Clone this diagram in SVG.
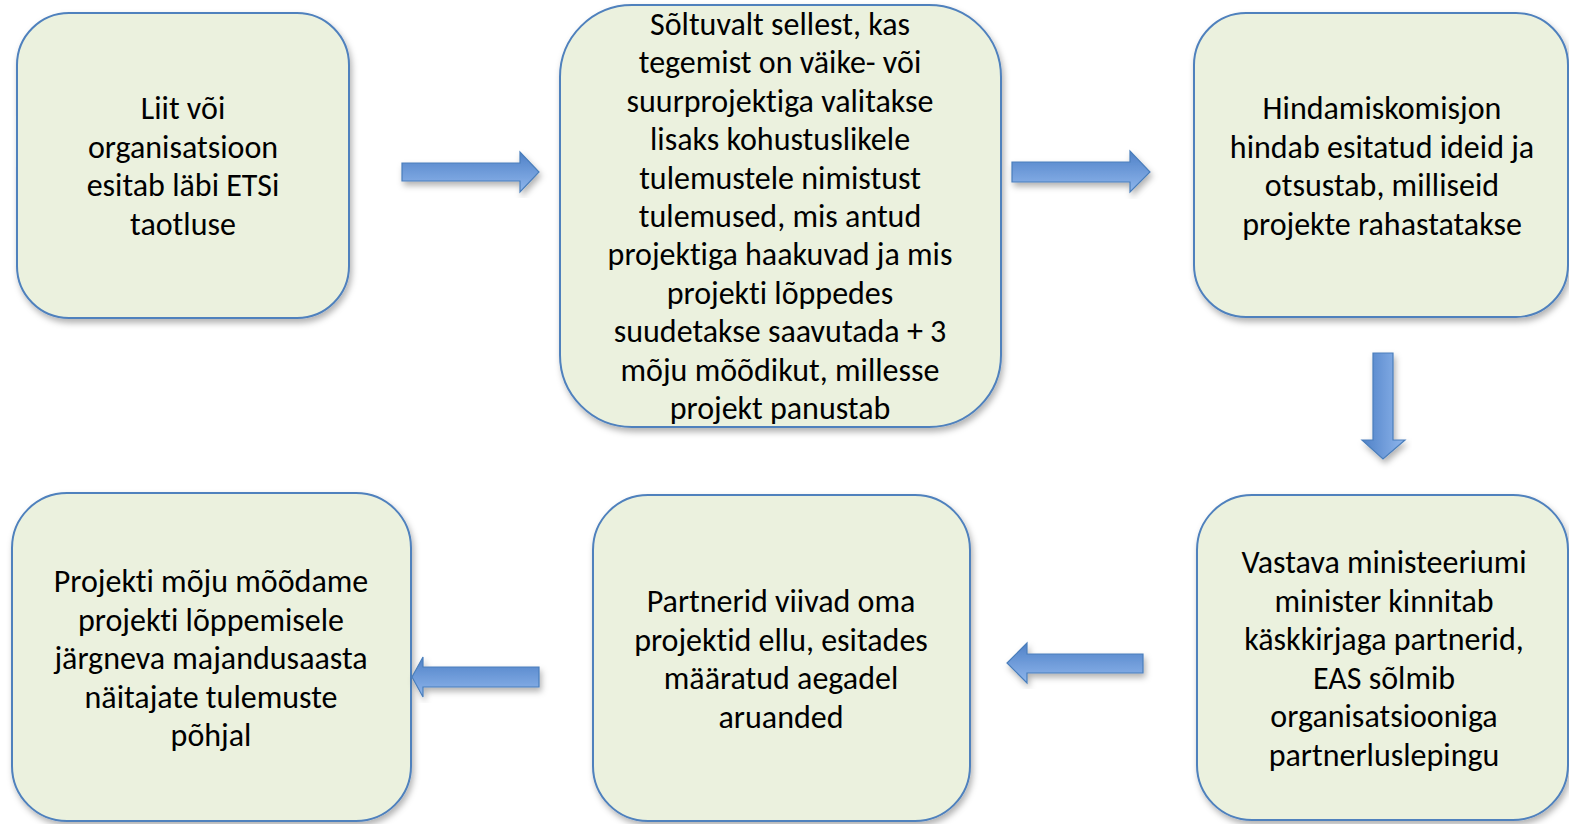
<svg xmlns="http://www.w3.org/2000/svg" width="1569" height="824" viewBox="0 0 1569 824">
<defs>
<filter id="sh" x="-10%" y="-10%" width="125%" height="125%">
<feDropShadow dx="2" dy="4" stdDeviation="3" flood-color="#000" flood-opacity="0.3"/>
</filter>
<linearGradient id="gv" x1="0" y1="0" x2="0" y2="1">
<stop offset="0" stop-color="#4f81c7"/>
<stop offset="1" stop-color="#8fb6ec"/>
</linearGradient>
<linearGradient id="gh" x1="0" y1="0" x2="1" y2="0">
<stop offset="0" stop-color="#4f81c7"/>
<stop offset="1" stop-color="#8fb6ec"/>
</linearGradient>
</defs>
<style>
.box{fill:#EBF1DE;stroke:#4F81BD;stroke-width:2;filter:url(#sh)}
.t{font-family:Carlito,Calibri,Lato,"Open Sans",sans-serif;font-size:32px;fill:#000;text-anchor:middle;font-variant-ligatures:none;font-feature-settings:"liga" 0,"clig" 0,"dlig" 0}
.arr{stroke:#4A7EBB;stroke-width:1.2;filter:url(#sh)}
</style>
<rect width="1569" height="824" fill="#fff"/>
<g id="n1">
<rect class="box" x="17" y="13" width="332" height="305" rx="52"/>
<text class="t"><tspan x="183" y="119">Liit või</tspan><tspan x="183" y="157.5">organisatsioon</tspan><tspan x="183" y="196">esitab läbi ETSi</tspan><tspan x="183" y="234.5">taotluse</tspan></text>
</g>
<g id="n2">
<rect class="box" x="560" y="5" width="441" height="422" rx="72"/>
<text class="t"><tspan x="780" y="35">Sõltuvalt sellest, kas</tspan><tspan x="780" y="73.4">tegemist on väike- või</tspan><tspan x="780" y="111.8">suurprojektiga valitakse</tspan><tspan x="780" y="150.2">lisaks kohustuslikele</tspan><tspan x="780" y="188.6">tulemustele nimistust</tspan><tspan x="780" y="227">tulemused, mis antud</tspan><tspan x="780" y="265.4">projektiga haakuvad ja mis</tspan><tspan x="780" y="303.8">projekti lõppedes</tspan><tspan x="780" y="342.2">suudetakse saavutada + 3</tspan><tspan x="780" y="380.6">mõju mõõdikut, millesse</tspan><tspan x="780" y="419">projekt panustab</tspan></text>
</g>
<g id="n3">
<rect class="box" x="1194" y="13" width="374" height="304" rx="52"/>
<text class="t"><tspan x="1382" y="119">Hindamiskomisjon</tspan><tspan x="1382" y="157.5">hindab esitatud ideid ja</tspan><tspan x="1382" y="196">otsustab, milliseid</tspan><tspan x="1382" y="234.5">projekte rahastatakse</tspan></text>
</g>
<g id="n4">
<rect class="box" x="1197" y="495" width="371" height="325" rx="55"/>
<text class="t"><tspan x="1384" y="573">Vastava ministeeriumi</tspan><tspan x="1384" y="611.5">minister kinnitab</tspan><tspan x="1384" y="650">käskkirjaga partnerid,</tspan><tspan x="1384" y="688.5">EAS sõlmib</tspan><tspan x="1384" y="727">organisatsiooniga</tspan><tspan x="1384" y="765.5">partnerluslepingu</tspan></text>
</g>
<g id="n5">
<rect class="box" x="593" y="495" width="377" height="326" rx="55"/>
<text class="t"><tspan x="781" y="612">Partnerid viivad oma</tspan><tspan x="781" y="650.5">projektid ellu, esitades</tspan><tspan x="781" y="689">määratud aegadel</tspan><tspan x="781" y="727.5">aruanded</tspan></text>
</g>
<g id="n6">
<rect class="box" x="12" y="493" width="399" height="328" rx="55"/>
<text class="t"><tspan x="211" y="592">Projekti mõju mõõdame</tspan><tspan x="211" y="630.5">projekti lõppemisele</tspan><tspan x="211" y="669">järgneva majandusaasta</tspan><tspan x="211" y="707.5">näitajate tulemuste</tspan><tspan x="211" y="746">põhjal</tspan></text>
</g>
<g id="connectors">
<path class="arr" fill="url(#gv)" d="M402,163 H520 V152 L539,172 L520,192 V181 H402 Z"/>
<path class="arr" fill="url(#gv)" d="M1012,162 H1130 V151 L1150,172 L1130,192 V182 H1012 Z"/>
<path class="arr" fill="url(#gh)" d="M1373,353 H1393 V440 H1405 L1383,459 L1362,440 H1373 Z"/>
<path class="arr" fill="url(#gv)" d="M1143,654 V673 H1027 V683 L1007,663 L1027,643 V654 Z"/>
<path class="arr" fill="url(#gv)" d="M539,667 V687 H423 V697 L412,677 L423,657 V667 Z"/>
</g>
</svg>
